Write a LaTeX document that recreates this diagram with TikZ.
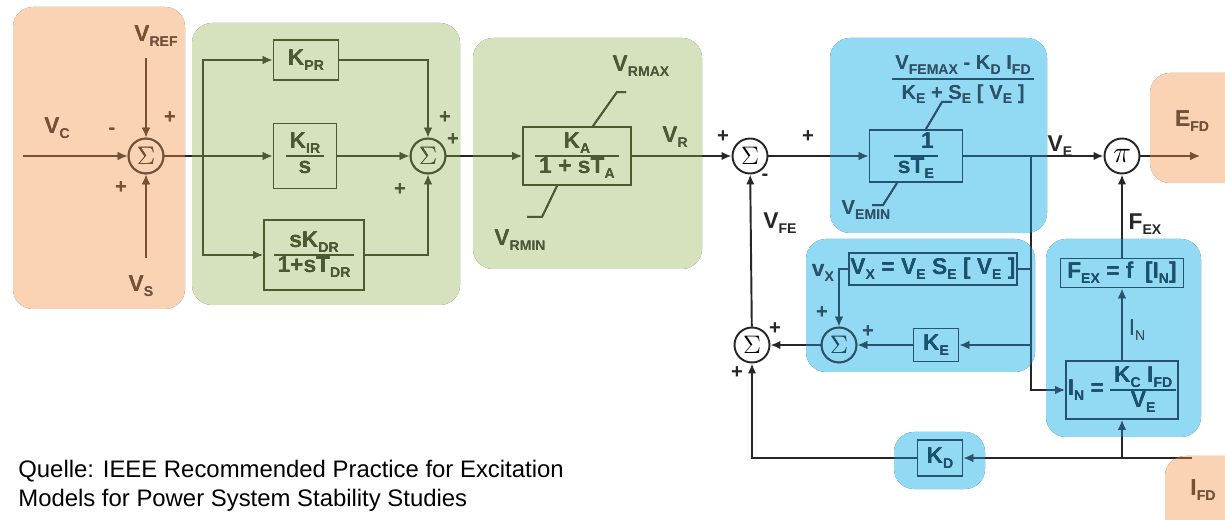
\documentclass[tikz,border=0pt]{standalone}
\usepackage{fontspec}
\setmainfont{Liberation Sans}
\usepackage{xcolor}
\usetikzlibrary{arrows.meta, calc, positioning}

\definecolor{orgbg}{HTML}{F9D3B3}
\definecolor{grnbg}{HTML}{D6E2BD}
\definecolor{blubg}{HTML}{92DAF4}
\definecolor{orgfg}{HTML}{7A512E}
\definecolor{grnfg}{HTML}{4B5B2D}
\definecolor{blufg}{HTML}{155470}
\definecolor{inkc}{HTML}{262626}

% Tiefgestellter Index
\newcommand{\sbs}[1]{\raisebox{-0.45ex}{\fontsize{8}{8}\selectfont #1}}
% Bruch im Block (optional: Zeilenabstand)
\newcommand{\frc}[3][0.95]{{\renewcommand{\arraystretch}{#1}\setlength{\arrayrulewidth}{1.1pt}%
  \begin{tabular}{@{\,}c@{\,}}#2\\\hline #3\end{tabular}}}

\begin{document}
\begin{tikzpicture}[x=0.02cm, y=-0.02cm, >=Latex,
    blk/.style={draw=inkc, line width=1.1pt, inner sep=1pt, font=\bfseries\fontsize{13}{14}\selectfont},
    sumc/.style={draw=inkc, circle, line width=1.1pt, minimum size=0.7cm, inner sep=0pt, font=\fontsize{15}{15}\selectfont},
    conn/.style={draw=inkc, line width=1.1pt, -{Latex[length=2mm, width=1.7mm]}},
    wire/.style={draw=inkc, line width=1.1pt},
    lbl/.style={text=inkc, font=\bfseries\fontsize{13}{14}\selectfont},
    sgn/.style={text=inkc, font=\bfseries\fontsize{11.5}{11.5}\selectfont},
    zone/.style={rounded corners=0.4cm}]

    \useasboundingbox (0,0) rectangle (1225,520);

    % =================================================================
    % 1. FARBIGE HINTERGRUNDFLAECHEN
    % =================================================================
    \fill[orgbg, zone] (13,7) rectangle (185,309);
    \fill[grnbg, zone] (192,23) rectangle (460,305);
    \fill[grnbg, zone] (473,38) rectangle (702,269);
    \fill[blubg, zone] (830,38) rectangle (1047,233);
    \fill[blubg, zone] (806,239) rectangle (1035,372);
    \fill[blubg, zone] (1046,239) rectangle (1201,437);
    \fill[blubg, zone] (894,432) rectangle (985,489);
    \fill[orgbg, zone] (1150,73) rectangle (1260,183);
    \fill[orgbg, zone] (1165,456) rectangle (1260,560);

    % =================================================================
    % 2. BLOECKE UND SUMMATIONSSTELLEN
    % =================================================================
    \node[sumc] (s1) at (146,156) {$\Sigma$};
    \node[blk, minimum width=1.3cm, minimum height=0.8cm] (kpr) at (306,60) {K\sbs{PR}};
    \node[blk, minimum width=1.26cm, minimum height=1.3cm] (kir) at (305,156) {\frc{K\sbs{IR}}{s}};
    \node[blk, minimum width=2cm, minimum height=1.4cm] (kdr) at (314,255) {\frc{sK\sbs{DR}}{1+sT\sbs{DR}}};
    \node[sumc] (s2) at (428,156) {$\Sigma$};
    \node[blk, minimum width=2.16cm, minimum height=1.16cm] (ka) at (577,156) {\frc{K\sbs{A}}{1 + sT\sbs{A}}};
    \node[sumc] (s3) at (750,156) {$\Sigma$};
    \node[blk, minimum width=1.86cm, minimum height=1cm] (te) at (916,156) {\frc{\quad 1\quad}{sT\sbs{E}}};
    \node[sumc, font=\fontsize{17}{17}\selectfont] (pi) at (1122,156) {$\pi$};
    \node[blk, minimum width=3.34cm, minimum height=0.64cm] (vx) at (933,269) {V\sbs{X} = V\sbs{E} S\sbs{E} [ V\sbs{E} ]};
    \node[sumc] (s4) at (839,345) {$\Sigma$};
    \node[blk, minimum width=0.9cm, minimum height=0.66cm] (ke) at (936,345) {K\sbs{E}};
    \node[sumc] (s5) at (752,345) {$\Sigma$};
    \node[blk, minimum width=2.46cm, minimum height=0.58cm] (fex) at (1122,273) {F\sbs{EX} = f\enspace[I\sbs{N}]};
    \node[blk, minimum width=2.24cm, minimum height=1.16cm] (inn) at (1122,390) {I\sbs{N} = \frc{K\sbs{C} I\sbs{FD}}{V\sbs{E}}};
    \node[blk, minimum width=0.9cm, minimum height=0.72cm] (kd) at (940,458) {K\sbs{D}};

    % freie Enden und Abzweige
    \coordinate (vcin) at (23,156);
    \coordinate (vrefin) at (146,58);
    \coordinate (vsin) at (146,258);
    \coordinate (br) at (203,156);
    \coordinate (jve) at (1031,156);
    \coordinate (efd) at (1200,156);
    \coordinate (ifdin) at (1192,458);
    \coordinate (jifd) at (1122,458);

    % =================================================================
    % 3. VERBINDUNGEN
    % =================================================================
    \draw[conn] (vcin) -- (s1);
    \draw[conn] (vrefin) -- (s1);
    \draw[conn] (vsin) -- (s1);
    \draw[conn] (s1) -- (kir);
    \draw[conn] (br) |- (kpr);
    \draw[conn] (br) |- (kdr);
    \draw[conn] (kpr) -| (s2);
    \draw[conn] (kir) -- (s2);
    \draw[conn] (kdr) -| (s2);
    \draw[conn] (s2) -- (ka);
    \draw[conn] (ka) -- (s3);
    \draw[conn] (s3) -- (te);
    \draw[conn] (te) -- (pi);
    \draw[conn] (pi) -- (efd);
    \draw[conn] (jve) |- (inn);
    \draw[wire] (vx.east) -- (vx.east -| jve);
    \draw[conn] (vx.west) -| (s4);
    \draw[conn] (ke.east -| jve) -- (ke);
    \draw[conn] (ke) -- (s4);
    \draw[conn] (s4) -- (s5);
    \draw[conn] (s5) -- (s3);
    \draw[conn] (ifdin) -- (kd);
    \draw[conn] (jifd) -- (inn);
    \draw[conn] (kd) -| (s5);
    \draw[conn] (inn) -- (fex);
    \draw[conn] (fex) -- (pi);

    % Begrenzungen
    \draw[wire] ($(ka.north)+(16,0)$) -- ++(24,-34) -- ++(9,0);
    \draw[wire] ($(ka.south)+(-20,0)$) -- ++(-15,31) -- ++(-15,0);
    \draw[wire] ($(te.north)+(10,0)$) -- ++(16,-27) -- ++(10,0);
    \draw[wire] ($(te.south)+(-19,0)$) -- ++(-14,22) -- ++(-11,0);

    % =================================================================
    % 4. BESCHRIFTUNGEN
    % =================================================================
    \node[lbl] (vc) at (57,128) {V\sbs{C}};
    \node[lbl] (vref) at (156,36) {V\sbs{REF}};
    \node[lbl] (vs) at (141,286) {V\sbs{S}};
    \node[sgn] at (112,131) {-};
    \node[sgn] at (170,118) {+};
    \node[sgn] at (121,188) {+};
    \node[sgn] at (445,118) {+};
    \node[sgn] at (453,140) {+};
    \node[sgn] at (400,190) {+};
    \node[lbl] (vrmax) at (641,66) {V\sbs{RMAX}};
    \node[lbl] (vrmin) at (520,240) {V\sbs{RMIN}};
    \node[lbl] (vr) at (675,137) {V\sbs{R}};
    \node[sgn] at (723,137) {+};
    \node[sgn] at (765,177) {-};
    \node[lbl] (vfe) at (780,223) {V\sbs{FE}};
    \node[sgn] at (808,137) {+};
    \node[lbl, font=\bfseries\fontsize{11.5}{12}\selectfont] (vfemax) at (963,79)
        {\frc[1.3]{V\sbs{FEMAX} - K\sbs{D} I\sbs{FD}}{K\sbs{E} + S\sbs{E} [ V\sbs{E} ]}};
    \node[lbl, font=\bfseries\fontsize{11.5}{12}\selectfont] (vemin) at (866,210) {V\sbs{EMIN}};
    \node[lbl] (ve) at (1060,146) {V\sbs{E}};
    \node[lbl] (efdl) at (1192,121) {E\sbs{FD}};
    \node[lbl] (fexl) at (1145,224) {F\sbs{EX}};
    \node[lbl] (vxl) at (823,273) {v\sbs{X}};
    \node[sgn] at (822,313) {+};
    \node[sgn] at (868,332) {+};
    \node[sgn] at (775,329) {+};
    \node[sgn] at (737,373) {+};
    \node[lbl, font=\fontsize{13}{14}\selectfont] (inl) at (1137,330) {I\sbs{N}};
    \node[lbl] (ifdl) at (1203,490) {I\sbs{FD}};

    % Quelle
    \node[anchor=north west, align=left, font=\fontsize{13.6}{16.5}\selectfont, text=black, inner sep=0pt] (src) at (18,460)
        {Quelle: IEEE Recommended Practice for Excitation\\Models for Power System Stability Studies};

    % =================================================================
    % 5. EINFAERBUNG DER LINIEN IN DEN FLAECHEN
    % =================================================================
    \begin{scope}[blend mode=lighten]
        \fill[orgfg, zone] (13,7) rectangle (185,309);
        \fill[grnfg, zone] (192,23) rectangle (460,305);
        \fill[grnfg, zone] (473,38) rectangle (702,269);
        \fill[blufg, zone] (830,38) rectangle (1047,233);
        \fill[blufg, zone] (806,239) rectangle (1035,372);
        \fill[blufg, zone] (1046,239) rectangle (1201,437);
        \fill[blufg, zone] (894,432) rectangle (985,489);
        \fill[orgfg, zone] (1150,73) rectangle (1260,183);
        \fill[orgfg, zone] (1165,456) rectangle (1260,560);
    \end{scope}

\end{tikzpicture}
\end{document}
